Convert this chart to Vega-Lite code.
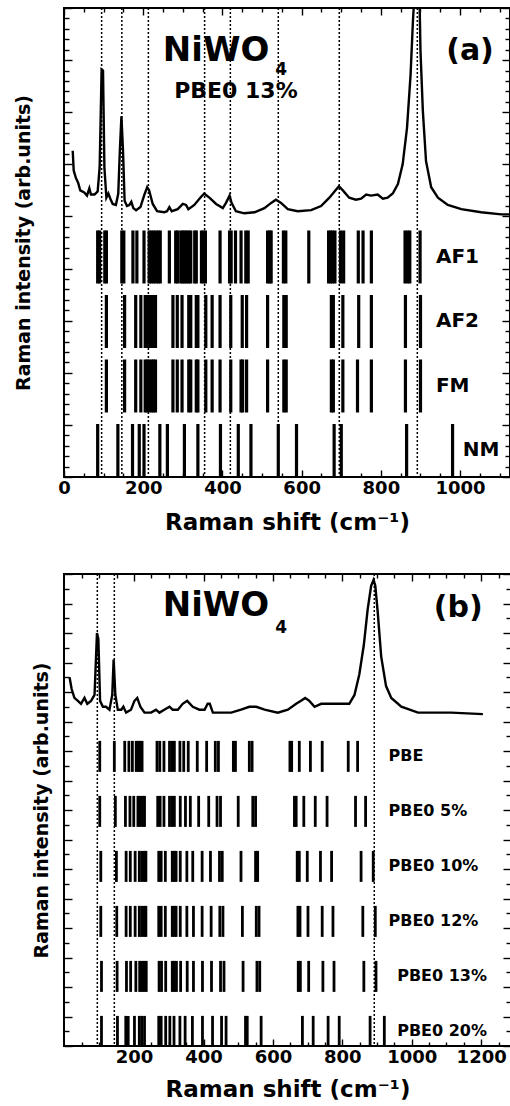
{
  "$schema": "https://vega.github.io/schema/vega-lite/v6.json",
  "padding": {"left": 13, "top": 6, "right": 0, "bottom": 0},
  "spacing": 37,
  "config": {
    "view": {"stroke": "black", "strokeWidth": 2},
    "font": "DejaVu Sans",
    "axis": {"domain": false, "grid": false, "tickColor": "black", "tickWidth": 1.4,
      "labelFont": "DejaVu Sans", "labelFontSize": 18, "labelFontWeight": "bold", "labelColor": "black",
      "titleFont": "DejaVu Sans", "titleFontWeight": "bold", "titleColor": "black"}
  },
  "datasets": {
    "specA": [
      {"shift":22,"intensity":31.3},{"shift":24.5,"intensity":29.4},{"shift":30,"intensity":28.7},{"shift":36,"intensity":28.2},{"shift":41,"intensity":27.5},{"shift":51,"intensity":27.3},{"shift":58,"intensity":27.0},{"shift":64,"intensity":27.7},{"shift":68,"intensity":27.1},{"shift":77,"intensity":27.1},{"shift":85,"intensity":27.4},{"shift":90,"intensity":29.7},{"shift":95,"intensity":39.1},{"shift":98.5,"intensity":39.0},{"shift":102,"intensity":29.7},{"shift":107,"intensity":26.8},{"shift":112,"intensity":27.2},{"shift":117,"intensity":26.7},{"shift":123,"intensity":26.2},{"shift":131,"intensity":26.1},{"shift":137,"intensity":27.2},{"shift":141,"intensity":31.3},{"shift":145,"intensity":34.6},{"shift":149,"intensity":31.3},{"shift":153,"intensity":26.5},{"shift":159,"intensity":26.0},{"shift":165,"intensity":26.1},{"shift":170,"intensity":26.4},{"shift":175,"intensity":25.8},{"shift":182,"intensity":25.6},{"shift":193,"intensity":25.9},{"shift":203,"intensity":27.1},{"shift":210,"intensity":27.8},{"shift":215,"intensity":27.5},{"shift":224,"intensity":26.2},{"shift":235,"intensity":25.5},{"shift":253,"intensity":25.4},{"shift":260,"intensity":25.5},{"shift":266,"intensity":25.9},{"shift":272,"intensity":25.5},{"shift":287,"intensity":25.7},{"shift":300,"intensity":26.2},{"shift":308,"intensity":26.1},{"shift":314,"intensity":25.7},{"shift":329,"intensity":26.1},{"shift":344,"intensity":26.8},{"shift":354,"intensity":27.2},{"shift":367,"intensity":26.8},{"shift":384,"intensity":26.2},{"shift":401,"intensity":25.8},{"shift":409,"intensity":26.3},{"shift":418,"intensity":27.0},{"shift":423,"intensity":26.3},{"shift":434,"intensity":25.5},{"shift":455,"intensity":25.3},{"shift":481,"intensity":25.4},{"shift":506,"intensity":25.8},{"shift":523,"intensity":26.3},{"shift":535,"intensity":26.6},{"shift":548,"intensity":26.3},{"shift":565,"intensity":25.7},{"shift":590,"intensity":25.5},{"shift":624,"intensity":25.6},{"shift":649,"intensity":26.0},{"shift":670,"intensity":26.8},{"shift":683,"intensity":27.4},{"shift":694,"intensity":27.9},{"shift":704,"intensity":27.5},{"shift":720,"intensity":26.8},{"shift":737,"intensity":26.6},{"shift":750,"intensity":26.7},{"shift":763,"intensity":27.1},{"shift":775,"intensity":27.0},{"shift":792,"intensity":27.1},{"shift":805,"intensity":26.7},{"shift":817,"intensity":26.8},{"shift":830,"intensity":27.2},{"shift":843,"intensity":28.1},{"shift":855,"intensity":30.0},{"shift":866,"intensity":33.5},{"shift":875,"intensity":38.6},{"shift":881,"intensity":43.8},{"shift":886,"intensity":47},{"shift":892,"intensity":50},{"shift":897,"intensity":47},{"shift":900,"intensity":40.9},{"shift":906,"intensity":35.1},{"shift":914,"intensity":30.3},{"shift":927,"intensity":27.8},{"shift":944,"intensity":26.8},{"shift":969,"intensity":26.1},{"shift":1003,"intensity":25.7},{"shift":1053,"intensity":25.4},{"shift":1104,"intensity":25.2},{"shift":1126,"intensity":25.2}
    ],
    "linesA": [{"shift":95},{"shift":146},{"shift":213},{"shift":355},{"shift":420},{"shift":541},{"shift":695},{"shift":892}],
    "barsA": [
      {"model":"AF1","row":4,"shift":85},{"model":"AF1","row":4,"shift":90},{"model":"AF1","row":4,"shift":103},{"model":"AF1","row":4,"shift":107},{"model":"AF1","row":4,"shift":146},{"model":"AF1","row":4,"shift":151},{"model":"AF1","row":4,"shift":174},{"model":"AF1","row":4,"shift":184},{"model":"AF1","row":4,"shift":202},{"model":"AF1","row":4,"shift":215},{"model":"AF1","row":4,"shift":220},{"model":"AF1","row":4,"shift":226},{"model":"AF1","row":4,"shift":232},{"model":"AF1","row":4,"shift":238},{"model":"AF1","row":4,"shift":243},{"model":"AF1","row":4,"shift":266},{"model":"AF1","row":4,"shift":282},{"model":"AF1","row":4,"shift":287},{"model":"AF1","row":4,"shift":295},{"model":"AF1","row":4,"shift":300},{"model":"AF1","row":4,"shift":305},{"model":"AF1","row":4,"shift":310},{"model":"AF1","row":4,"shift":315},{"model":"AF1","row":4,"shift":320},{"model":"AF1","row":4,"shift":330},{"model":"AF1","row":4,"shift":334},{"model":"AF1","row":4,"shift":347},{"model":"AF1","row":4,"shift":352},{"model":"AF1","row":4,"shift":357},{"model":"AF1","row":4,"shift":394},{"model":"AF1","row":4,"shift":418},{"model":"AF1","row":4,"shift":422},{"model":"AF1","row":4,"shift":433},{"model":"AF1","row":4,"shift":447},{"model":"AF1","row":4,"shift":459},{"model":"AF1","row":4,"shift":465},{"model":"AF1","row":4,"shift":514},{"model":"AF1","row":4,"shift":519},{"model":"AF1","row":4,"shift":523},{"model":"AF1","row":4,"shift":554},{"model":"AF1","row":4,"shift":560},{"model":"AF1","row":4,"shift":618},{"model":"AF1","row":4,"shift":668},{"model":"AF1","row":4,"shift":673},{"model":"AF1","row":4,"shift":678},{"model":"AF1","row":4,"shift":684},{"model":"AF1","row":4,"shift":698},{"model":"AF1","row":4,"shift":706},{"model":"AF1","row":4,"shift":743},{"model":"AF1","row":4,"shift":755},{"model":"AF1","row":4,"shift":776},{"model":"AF1","row":4,"shift":861},{"model":"AF1","row":4,"shift":867},{"model":"AF1","row":4,"shift":873},{"model":"AF1","row":4,"shift":899},
      {"model":"AF2","row":3,"shift":107},{"model":"AF2","row":3,"shift":153},{"model":"AF2","row":3,"shift":181},{"model":"AF2","row":3,"shift":194},{"model":"AF2","row":3,"shift":205},{"model":"AF2","row":3,"shift":210},{"model":"AF2","row":3,"shift":215},{"model":"AF2","row":3,"shift":221},{"model":"AF2","row":3,"shift":226},{"model":"AF2","row":3,"shift":231},{"model":"AF2","row":3,"shift":275},{"model":"AF2","row":3,"shift":286},{"model":"AF2","row":3,"shift":298},{"model":"AF2","row":3,"shift":315},{"model":"AF2","row":3,"shift":320},{"model":"AF2","row":3,"shift":334},{"model":"AF2","row":3,"shift":338},{"model":"AF2","row":3,"shift":358},{"model":"AF2","row":3,"shift":374},{"model":"AF2","row":3,"shift":394},{"model":"AF2","row":3,"shift":421},{"model":"AF2","row":3,"shift":450},{"model":"AF2","row":3,"shift":461},{"model":"AF2","row":3,"shift":514},{"model":"AF2","row":3,"shift":555},{"model":"AF2","row":3,"shift":561},{"model":"AF2","row":3,"shift":675},{"model":"AF2","row":3,"shift":680},{"model":"AF2","row":3,"shift":704},{"model":"AF2","row":3,"shift":744},{"model":"AF2","row":3,"shift":776},{"model":"AF2","row":3,"shift":862},{"model":"AF2","row":3,"shift":900},
      {"model":"FM","row":2,"shift":107},{"model":"FM","row":2,"shift":153},{"model":"FM","row":2,"shift":181},{"model":"FM","row":2,"shift":194},{"model":"FM","row":2,"shift":205},{"model":"FM","row":2,"shift":210},{"model":"FM","row":2,"shift":215},{"model":"FM","row":2,"shift":221},{"model":"FM","row":2,"shift":226},{"model":"FM","row":2,"shift":231},{"model":"FM","row":2,"shift":275},{"model":"FM","row":2,"shift":286},{"model":"FM","row":2,"shift":298},{"model":"FM","row":2,"shift":315},{"model":"FM","row":2,"shift":320},{"model":"FM","row":2,"shift":334},{"model":"FM","row":2,"shift":338},{"model":"FM","row":2,"shift":358},{"model":"FM","row":2,"shift":374},{"model":"FM","row":2,"shift":394},{"model":"FM","row":2,"shift":421},{"model":"FM","row":2,"shift":447},{"model":"FM","row":2,"shift":451},{"model":"FM","row":2,"shift":461},{"model":"FM","row":2,"shift":514},{"model":"FM","row":2,"shift":555},{"model":"FM","row":2,"shift":561},{"model":"FM","row":2,"shift":675},{"model":"FM","row":2,"shift":680},{"model":"FM","row":2,"shift":704},{"model":"FM","row":2,"shift":741},{"model":"FM","row":2,"shift":776},{"model":"FM","row":2,"shift":862},{"model":"FM","row":2,"shift":900},
      {"model":"NM","row":1,"shift":85},{"model":"NM","row":1,"shift":136},{"model":"NM","row":1,"shift":173},{"model":"NM","row":1,"shift":190},{"model":"NM","row":1,"shift":202},{"model":"NM","row":1,"shift":242},{"model":"NM","row":1,"shift":261},{"model":"NM","row":1,"shift":304},{"model":"NM","row":1,"shift":338},{"model":"NM","row":1,"shift":395},{"model":"NM","row":1,"shift":440},{"model":"NM","row":1,"shift":472},{"model":"NM","row":1,"shift":541},{"model":"NM","row":1,"shift":587},{"model":"NM","row":1,"shift":682},{"model":"NM","row":1,"shift":700},{"model":"NM","row":1,"shift":865},{"model":"NM","row":1,"shift":981}
    ],
    "rowLabelsA": [{"model":"AF1","row":4},{"model":"AF2","row":3},{"model":"FM","row":2},{"model":"NM","row":1}],
    "specB": [
      {"shift":14,"intensity":12.5},{"shift":20,"intensity":12.1},{"shift":28,"intensity":11.8},{"shift":38,"intensity":11.7},{"shift":47,"intensity":11.6},{"shift":57,"intensity":11.8},{"shift":65,"intensity":11.6},{"shift":76,"intensity":11.7},{"shift":86,"intensity":11.9},{"shift":93,"intensity":14.0},{"shift":97,"intensity":13.8},{"shift":102,"intensity":11.7},{"shift":110,"intensity":11.5},{"shift":119,"intensity":11.5},{"shift":129,"intensity":11.4},{"shift":137,"intensity":11.9},{"shift":141,"intensity":13.1},{"shift":146,"intensity":11.9},{"shift":153,"intensity":11.4},{"shift":163,"intensity":11.4},{"shift":169,"intensity":11.5},{"shift":177,"intensity":11.3},{"shift":191,"intensity":11.4},{"shift":201,"intensity":11.7},{"shift":209,"intensity":11.8},{"shift":218,"intensity":11.5},{"shift":230,"intensity":11.3},{"shift":249,"intensity":11.3},{"shift":263,"intensity":11.4},{"shift":273,"intensity":11.3},{"shift":287,"intensity":11.4},{"shift":302,"intensity":11.5},{"shift":311,"intensity":11.4},{"shift":326,"intensity":11.4},{"shift":340,"intensity":11.6},{"shift":353,"intensity":11.7},{"shift":369,"intensity":11.5},{"shift":388,"intensity":11.4},{"shift":403,"intensity":11.4},{"shift":412,"intensity":11.6},{"shift":418,"intensity":11.6},{"shift":427,"intensity":11.3},{"shift":451,"intensity":11.3},{"shift":480,"intensity":11.3},{"shift":508,"intensity":11.4},{"shift":532,"intensity":11.5},{"shift":552,"intensity":11.5},{"shift":576,"intensity":11.4},{"shift":614,"intensity":11.3},{"shift":643,"intensity":11.4},{"shift":667,"intensity":11.6},{"shift":681,"intensity":11.7},{"shift":693,"intensity":11.8},{"shift":705,"intensity":11.7},{"shift":720,"intensity":11.5},{"shift":739,"intensity":11.6},{"shift":758,"intensity":11.6},{"shift":777,"intensity":11.6},{"shift":797,"intensity":11.6},{"shift":820,"intensity":11.6},{"shift":835,"intensity":11.9},{"shift":849,"intensity":12.6},{"shift":862,"intensity":13.6},{"shift":873,"intensity":14.8},{"shift":883,"intensity":15.6},{"shift":890,"intensity":15.8},{"shift":895,"intensity":15.6},{"shift":902,"intensity":14.7},{"shift":912,"intensity":13.2},{"shift":926,"intensity":12.2},{"shift":941,"intensity":11.8},{"shift":970,"intensity":11.5},{"shift":1018,"intensity":11.3},{"shift":1065,"intensity":11.3},{"shift":1114,"intensity":11.3},{"shift":1205,"intensity":11.25}
    ],
    "linesB": [{"shift":94},{"shift":143},{"shift":892}],
    "barsB": [
      {"model":"PBE","row":6,"shift":101},{"model":"PBE","row":6,"shift":143},{"model":"PBE","row":6,"shift":173},{"model":"PBE","row":6,"shift":185},{"model":"PBE","row":6,"shift":195},{"model":"PBE","row":6,"shift":206},{"model":"PBE","row":6,"shift":212},{"model":"PBE","row":6,"shift":217},{"model":"PBE","row":6,"shift":223},{"model":"PBE","row":6,"shift":266},{"model":"PBE","row":6,"shift":274},{"model":"PBE","row":6,"shift":286},{"model":"PBE","row":6,"shift":302},{"model":"PBE","row":6,"shift":309},{"model":"PBE","row":6,"shift":316},{"model":"PBE","row":6,"shift":332},{"model":"PBE","row":6,"shift":343},{"model":"PBE","row":6,"shift":356},{"model":"PBE","row":6,"shift":382},{"model":"PBE","row":6,"shift":409},{"model":"PBE","row":6,"shift":434},{"model":"PBE","row":6,"shift":443},{"model":"PBE","row":6,"shift":486},{"model":"PBE","row":6,"shift":492},{"model":"PBE","row":6,"shift":532},{"model":"PBE","row":6,"shift":540},{"model":"PBE","row":6,"shift":649},{"model":"PBE","row":6,"shift":654},{"model":"PBE","row":6,"shift":676},{"model":"PBE","row":6,"shift":708},{"model":"PBE","row":6,"shift":742},{"model":"PBE","row":6,"shift":817},{"model":"PBE","row":6,"shift":844},
      {"model":"PBE0 5%","row":5,"shift":101},{"model":"PBE0 5%","row":5,"shift":146},{"model":"PBE0 5%","row":5,"shift":175},{"model":"PBE0 5%","row":5,"shift":188},{"model":"PBE0 5%","row":5,"shift":199},{"model":"PBE0 5%","row":5,"shift":211},{"model":"PBE0 5%","row":5,"shift":217},{"model":"PBE0 5%","row":5,"shift":224},{"model":"PBE0 5%","row":5,"shift":230},{"model":"PBE0 5%","row":5,"shift":268},{"model":"PBE0 5%","row":5,"shift":275},{"model":"PBE0 5%","row":5,"shift":286},{"model":"PBE0 5%","row":5,"shift":302},{"model":"PBE0 5%","row":5,"shift":309},{"model":"PBE0 5%","row":5,"shift":316},{"model":"PBE0 5%","row":5,"shift":333},{"model":"PBE0 5%","row":5,"shift":348},{"model":"PBE0 5%","row":5,"shift":362},{"model":"PBE0 5%","row":5,"shift":386},{"model":"PBE0 5%","row":5,"shift":415},{"model":"PBE0 5%","row":5,"shift":439},{"model":"PBE0 5%","row":5,"shift":449},{"model":"PBE0 5%","row":5,"shift":500},{"model":"PBE0 5%","row":5,"shift":542},{"model":"PBE0 5%","row":5,"shift":550},{"model":"PBE0 5%","row":5,"shift":662},{"model":"PBE0 5%","row":5,"shift":667},{"model":"PBE0 5%","row":5,"shift":689},{"model":"PBE0 5%","row":5,"shift":722},{"model":"PBE0 5%","row":5,"shift":756},{"model":"PBE0 5%","row":5,"shift":838},{"model":"PBE0 5%","row":5,"shift":867},
      {"model":"PBE0 10%","row":4,"shift":104},{"model":"PBE0 10%","row":4,"shift":149},{"model":"PBE0 10%","row":4,"shift":177},{"model":"PBE0 10%","row":4,"shift":189},{"model":"PBE0 10%","row":4,"shift":203},{"model":"PBE0 10%","row":4,"shift":215},{"model":"PBE0 10%","row":4,"shift":222},{"model":"PBE0 10%","row":4,"shift":229},{"model":"PBE0 10%","row":4,"shift":234},{"model":"PBE0 10%","row":4,"shift":271},{"model":"PBE0 10%","row":4,"shift":278},{"model":"PBE0 10%","row":4,"shift":290},{"model":"PBE0 10%","row":4,"shift":310},{"model":"PBE0 10%","row":4,"shift":316},{"model":"PBE0 10%","row":4,"shift":321},{"model":"PBE0 10%","row":4,"shift":333},{"model":"PBE0 10%","row":4,"shift":352},{"model":"PBE0 10%","row":4,"shift":369},{"model":"PBE0 10%","row":4,"shift":396},{"model":"PBE0 10%","row":4,"shift":420},{"model":"PBE0 10%","row":4,"shift":446},{"model":"PBE0 10%","row":4,"shift":454},{"model":"PBE0 10%","row":4,"shift":508},{"model":"PBE0 10%","row":4,"shift":550},{"model":"PBE0 10%","row":4,"shift":556},{"model":"PBE0 10%","row":4,"shift":670},{"model":"PBE0 10%","row":4,"shift":676},{"model":"PBE0 10%","row":4,"shift":699},{"model":"PBE0 10%","row":4,"shift":737},{"model":"PBE0 10%","row":4,"shift":769},{"model":"PBE0 10%","row":4,"shift":854},{"model":"PBE0 10%","row":4,"shift":889},
      {"model":"PBE0 12%","row":3,"shift":104},{"model":"PBE0 12%","row":3,"shift":150},{"model":"PBE0 12%","row":3,"shift":177},{"model":"PBE0 12%","row":3,"shift":189},{"model":"PBE0 12%","row":3,"shift":203},{"model":"PBE0 12%","row":3,"shift":215},{"model":"PBE0 12%","row":3,"shift":222},{"model":"PBE0 12%","row":3,"shift":229},{"model":"PBE0 12%","row":3,"shift":234},{"model":"PBE0 12%","row":3,"shift":271},{"model":"PBE0 12%","row":3,"shift":278},{"model":"PBE0 12%","row":3,"shift":290},{"model":"PBE0 12%","row":3,"shift":310},{"model":"PBE0 12%","row":3,"shift":316},{"model":"PBE0 12%","row":3,"shift":321},{"model":"PBE0 12%","row":3,"shift":333},{"model":"PBE0 12%","row":3,"shift":352},{"model":"PBE0 12%","row":3,"shift":371},{"model":"PBE0 12%","row":3,"shift":396},{"model":"PBE0 12%","row":3,"shift":422},{"model":"PBE0 12%","row":3,"shift":447},{"model":"PBE0 12%","row":3,"shift":456},{"model":"PBE0 12%","row":3,"shift":512},{"model":"PBE0 12%","row":3,"shift":552},{"model":"PBE0 12%","row":3,"shift":560},{"model":"PBE0 12%","row":3,"shift":672},{"model":"PBE0 12%","row":3,"shift":678},{"model":"PBE0 12%","row":3,"shift":701},{"model":"PBE0 12%","row":3,"shift":742},{"model":"PBE0 12%","row":3,"shift":773},{"model":"PBE0 12%","row":3,"shift":859},{"model":"PBE0 12%","row":3,"shift":895},
      {"model":"PBE0 13%","row":2,"shift":106},{"model":"PBE0 13%","row":2,"shift":151},{"model":"PBE0 13%","row":2,"shift":178},{"model":"PBE0 13%","row":2,"shift":190},{"model":"PBE0 13%","row":2,"shift":205},{"model":"PBE0 13%","row":2,"shift":216},{"model":"PBE0 13%","row":2,"shift":223},{"model":"PBE0 13%","row":2,"shift":229},{"model":"PBE0 13%","row":2,"shift":235},{"model":"PBE0 13%","row":2,"shift":272},{"model":"PBE0 13%","row":2,"shift":279},{"model":"PBE0 13%","row":2,"shift":291},{"model":"PBE0 13%","row":2,"shift":310},{"model":"PBE0 13%","row":2,"shift":316},{"model":"PBE0 13%","row":2,"shift":322},{"model":"PBE0 13%","row":2,"shift":334},{"model":"PBE0 13%","row":2,"shift":353},{"model":"PBE0 13%","row":2,"shift":371},{"model":"PBE0 13%","row":2,"shift":397},{"model":"PBE0 13%","row":2,"shift":423},{"model":"PBE0 13%","row":2,"shift":449},{"model":"PBE0 13%","row":2,"shift":459},{"model":"PBE0 13%","row":2,"shift":514},{"model":"PBE0 13%","row":2,"shift":554},{"model":"PBE0 13%","row":2,"shift":562},{"model":"PBE0 13%","row":2,"shift":673},{"model":"PBE0 13%","row":2,"shift":679},{"model":"PBE0 13%","row":2,"shift":703},{"model":"PBE0 13%","row":2,"shift":744},{"model":"PBE0 13%","row":2,"shift":776},{"model":"PBE0 13%","row":2,"shift":862},{"model":"PBE0 13%","row":2,"shift":897},
      {"model":"PBE0 20%","row":1,"shift":106},{"model":"PBE0 20%","row":1,"shift":152},{"model":"PBE0 20%","row":1,"shift":176},{"model":"PBE0 20%","row":1,"shift":183},{"model":"PBE0 20%","row":1,"shift":201},{"model":"PBE0 20%","row":1,"shift":215},{"model":"PBE0 20%","row":1,"shift":222},{"model":"PBE0 20%","row":1,"shift":230},{"model":"PBE0 20%","row":1,"shift":271},{"model":"PBE0 20%","row":1,"shift":278},{"model":"PBE0 20%","row":1,"shift":291},{"model":"PBE0 20%","row":1,"shift":303},{"model":"PBE0 20%","row":1,"shift":315},{"model":"PBE0 20%","row":1,"shift":332},{"model":"PBE0 20%","row":1,"shift":347},{"model":"PBE0 20%","row":1,"shift":368},{"model":"PBE0 20%","row":1,"shift":397},{"model":"PBE0 20%","row":1,"shift":426},{"model":"PBE0 20%","row":1,"shift":452},{"model":"PBE0 20%","row":1,"shift":465},{"model":"PBE0 20%","row":1,"shift":521},{"model":"PBE0 20%","row":1,"shift":526},{"model":"PBE0 20%","row":1,"shift":566},{"model":"PBE0 20%","row":1,"shift":685},{"model":"PBE0 20%","row":1,"shift":716},{"model":"PBE0 20%","row":1,"shift":759},{"model":"PBE0 20%","row":1,"shift":791},{"model":"PBE0 20%","row":1,"shift":880},{"model":"PBE0 20%","row":1,"shift":921}
    ],
    "rowLabelsB": [{"model":"PBE","row":6},{"model":"PBE0 5%","row":5},{"model":"PBE0 10%","row":4},{"model":"PBE0 12%","row":3},{"model":"PBE0 13%","row":2},{"model":"PBE0 20%","row":1}]
  },
  "vconcat": [
    {
      "width": 446, "height": 469,
      "resolve": {"scale": {"y": "independent"}, "axis": {"x": "independent", "y": "independent"}},
      "layer": [
        {
          "data": {"name": "specA"},
          "mark": {"type": "line", "color": "black", "strokeWidth": 2.4, "clip": true},
          "encoding": {
            "x": {"field": "shift", "type": "quantitative", "scale": {"domain": [0, 1126], "nice": false, "zero": false},
              "axis": {"orient": "bottom", "values": [0,50,100,150,200,250,300,350,400,450,500,550,600,650,700,750,800,850,900,950,1000,1050,1100],
                "format": "d", "labelExpr": "datum.value % 200 === 0 ? datum.label : ''",
                "tickSize": {"condition": {"test": "datum.value % 200 === 0", "value": -7}, "value": -4},
                "labelPadding": 9, "labelFlush": false, "labelOverlap": false,
                "title": "Raman shift (cm⁻¹)", "titleFontSize": 23, "titlePadding": 11}},
            "y": {"field": "intensity", "type": "quantitative", "scale": {"domain": [0, 45], "nice": false, "zero": false},
              "axis": {"orient": "left", "values": [0,1,2,3,4,5,6,7,8,9,10,11,12,13,14,15,16,17,18,19,20,21,22,23,24,25,26,27,28,29,30,31,32,33,34,35,36,37,38,39,40,41,42,43,44,45],
                "labels": false, "tickSize": {"condition": {"test": "datum.value % 5 === 0", "value": -8}, "value": -5},
                "title": "Raman intensity (arb.units)", "titleFontSize": 19, "titlePadding": 30}}
          }
        },
        {
          "data": {"name": "linesA"},
          "mark": {"type": "rule", "color": "black", "strokeWidth": 1.5, "strokeDash": [2, 2]},
          "encoding": {
            "x": {"field": "shift", "type": "quantitative", "scale": {"domain": [0, 1126], "nice": false, "zero": false},
              "axis": {"orient": "top", "values": [0,50,100,150,200,250,300,350,400,450,500,550,600,650,700,750,800,850,900,950,1000,1050,1100],
                "labels": false, "title": null, "tickSize": {"condition": {"test": "datum.value % 200 === 0", "value": -7}, "value": -4}}}
          }
        },
        {
          "data": {"name": "barsA"},
          "mark": {"type": "tick", "orient": "vertical", "color": "black", "size": 53, "thickness": 3.2, "opacity": 1},
          "encoding": {
            "x": {"field": "shift", "type": "quantitative", "scale": {"domain": [0, 1126], "nice": false, "zero": false}, "axis": null},
            "y": {"field": "row", "type": "quantitative", "scale": {"domain": [0.589, 7.86], "nice": false, "zero": false}, "axis": null}
          }
        },
        {
          "data": {"name": "rowLabelsA"},
          "transform": [{"filter": "datum.row > 1"}],
          "mark": {"type": "text", "align": "left", "baseline": "middle", "font": "DejaVu Sans", "fontWeight": "bold", "fontSize": 20, "color": "black"},
          "encoding": {
            "x": {"datum": 939, "type": "quantitative", "scale": {"domain": [0, 1126], "nice": false, "zero": false}, "axis": null},
            "y": {"field": "row", "type": "quantitative", "scale": {"domain": [0.589, 7.86], "nice": false, "zero": false}, "axis": null},
            "text": {"field": "model"}
          }
        },
        {
          "data": {"name": "rowLabelsA"},
          "transform": [{"filter": "datum.row === 1"}],
          "mark": {"type": "text", "align": "left", "baseline": "middle", "font": "DejaVu Sans", "fontWeight": "bold", "fontSize": 20, "color": "black"},
          "encoding": {
            "x": {"datum": 1007, "type": "quantitative", "scale": {"domain": [0, 1126], "nice": false, "zero": false}, "axis": null},
            "y": {"field": "row", "type": "quantitative", "scale": {"domain": [0.589, 7.86], "nice": false, "zero": false}, "axis": null},
            "text": {"field": "model"}
          }
        },
        {
          "data": {"values": [{}]},
          "mark": {"type": "text", "text": "NiWO", "align": "center", "baseline": "middle", "font": "DejaVu Sans", "fontWeight": "bold", "fontSize": 34, "color": "black"},
          "encoding": {
            "x": {"datum": 384, "type": "quantitative", "scale": {"domain": [0, 1126], "nice": false, "zero": false}, "axis": null},
            "y": {"datum": 40.9, "type": "quantitative", "scale": {"domain": [0, 45], "nice": false, "zero": false},
              "axis": {"orient": "right", "values": [0,1,2,3,4,5,6,7,8,9,10,11,12,13,14,15,16,17,18,19,20,21,22,23,24,25,26,27,28,29,30,31,32,33,34,35,36,37,38,39,40,41,42,43,44,45],
                "labels": false, "title": null, "tickSize": {"condition": {"test": "datum.value % 5 === 0", "value": -8}, "value": -5}}}
          }
        },
        {
          "data": {"values": [{}]},
          "mark": {"type": "text", "text": "4", "align": "center", "baseline": "middle", "font": "DejaVu Sans", "fontWeight": "bold", "fontSize": 17, "color": "black"},
          "encoding": {
            "x": {"datum": 548, "type": "quantitative", "scale": {"domain": [0, 1126], "nice": false, "zero": false}, "axis": null},
            "y": {"datum": 39.05, "type": "quantitative", "scale": {"domain": [0, 45], "nice": false, "zero": false}, "axis": null}
          }
        },
        {
          "data": {"values": [{}]},
          "mark": {"type": "text", "text": "PBE0 13%", "align": "center", "baseline": "middle", "font": "DejaVu Sans", "fontWeight": "bold", "fontSize": 22, "color": "black"},
          "encoding": {
            "x": {"datum": 434, "type": "quantitative", "scale": {"domain": [0, 1126], "nice": false, "zero": false}, "axis": null},
            "y": {"datum": 37.04, "type": "quantitative", "scale": {"domain": [0, 45], "nice": false, "zero": false}, "axis": null}
          }
        },
        {
          "data": {"values": [{}]},
          "mark": {"type": "text", "text": "(a)", "align": "center", "baseline": "middle", "font": "DejaVu Sans", "fontWeight": "bold", "fontSize": 30, "color": "black"},
          "encoding": {
            "x": {"datum": 1025, "type": "quantitative", "scale": {"domain": [0, 1126], "nice": false, "zero": false}, "axis": null},
            "y": {"datum": 40.87, "type": "quantitative", "scale": {"domain": [0, 45], "nice": false, "zero": false}, "axis": null}
          }
        }
      ]
    },
    {
      "width": 447, "height": 472,
      "resolve": {"scale": {"y": "independent"}, "axis": {"x": "independent", "y": "independent"}},
      "layer": [
        {
          "data": {"name": "specB"},
          "mark": {"type": "line", "color": "black", "strokeWidth": 2.4, "clip": true},
          "encoding": {
            "x": {"field": "shift", "type": "quantitative", "scale": {"domain": [-2, 1286], "nice": false, "zero": false},
              "axis": {"orient": "bottom", "values": [50,100,150,200,250,300,350,400,450,500,550,600,650,700,750,800,850,900,950,1000,1050,1100,1150,1200,1250],
                "format": "d", "labelExpr": "datum.value % 200 === 0 ? datum.label : ''",
                "tickSize": {"condition": {"test": "datum.value % 200 === 0", "value": -7}, "value": -4},
                "labelPadding": 9, "labelFlush": false, "labelOverlap": false,
                "title": "Raman shift (cm⁻¹)", "titleFontSize": 23, "titlePadding": 9}},
            "y": {"field": "intensity", "type": "quantitative", "scale": {"domain": [0, 16], "nice": false, "zero": false},
              "axis": {"orient": "left", "values": [0,0.5,1,1.5,2,2.5,3,3.5,4,4.5,5,5.5,6,6.5,7,7.5,8,8.5,9,9.5,10,10.5,11,11.5,12,12.5,13,13.5,14,14.5,15,15.5,16],
                "labels": false, "tickSize": {"condition": {"test": "datum.value % 1 === 0", "value": -8}, "value": -5},
                "title": "Raman intensity (arb.units)", "titleFontSize": 19, "titlePadding": 12}}
          }
        },
        {
          "data": {"name": "linesB"},
          "mark": {"type": "rule", "color": "black", "strokeWidth": 1.5, "strokeDash": [2, 2]},
          "encoding": {
            "x": {"field": "shift", "type": "quantitative", "scale": {"domain": [-2, 1286], "nice": false, "zero": false},
              "axis": {"orient": "top", "values": [50,100,150,200,250,300,350,400,450,500,550,600,650,700,750,800,850,900,950,1000,1050,1100,1150,1200,1250],
                "labels": false, "title": null, "tickSize": {"condition": {"test": "datum.value % 200 === 0", "value": -7}, "value": -4}}}
          }
        },
        {
          "data": {"name": "barsB"},
          "mark": {"type": "tick", "orient": "vertical", "color": "black", "size": 31, "thickness": 2.8, "opacity": 1},
          "encoding": {
            "x": {"field": "shift", "type": "quantitative", "scale": {"domain": [-2, 1286], "nice": false, "zero": false}, "axis": null},
            "y": {"field": "row", "type": "quantitative", "scale": {"domain": [0.7345, 9.316], "nice": false, "zero": false}, "axis": null}
          }
        },
        {
          "data": {"name": "rowLabelsB"},
          "transform": [{"filter": "datum.row > 2"}],
          "mark": {"type": "text", "align": "left", "baseline": "middle", "font": "DejaVu Sans", "fontWeight": "bold", "fontSize": 16, "color": "black"},
          "encoding": {
            "x": {"datum": 933, "type": "quantitative", "scale": {"domain": [-2, 1286], "nice": false, "zero": false}, "axis": null},
            "y": {"field": "row", "type": "quantitative", "scale": {"domain": [0.7345, 9.316], "nice": false, "zero": false}, "axis": null},
            "text": {"field": "model"}
          }
        },
        {
          "data": {"name": "rowLabelsB"},
          "transform": [{"filter": "datum.row <= 2"}],
          "mark": {"type": "text", "align": "left", "baseline": "middle", "font": "DejaVu Sans", "fontWeight": "bold", "fontSize": 16, "color": "black"},
          "encoding": {
            "x": {"datum": 958, "type": "quantitative", "scale": {"domain": [-2, 1286], "nice": false, "zero": false}, "axis": null},
            "y": {"field": "row", "type": "quantitative", "scale": {"domain": [0.7345, 9.316], "nice": false, "zero": false}, "axis": null},
            "text": {"field": "model"}
          }
        },
        {
          "data": {"values": [{}]},
          "mark": {"type": "text", "text": "NiWO", "align": "center", "baseline": "middle", "font": "DejaVu Sans", "fontWeight": "bold", "fontSize": 34, "color": "black"},
          "encoding": {
            "x": {"datum": 436, "type": "quantitative", "scale": {"domain": [-2, 1286], "nice": false, "zero": false}, "axis": null},
            "y": {"datum": 14.92, "type": "quantitative", "scale": {"domain": [0, 16], "nice": false, "zero": false},
              "axis": {"orient": "right", "values": [0,0.5,1,1.5,2,2.5,3,3.5,4,4.5,5,5.5,6,6.5,7,7.5,8,8.5,9,9.5,10,10.5,11,11.5,12,12.5,13,13.5,14,14.5,15,15.5,16],
                "labels": false, "title": null, "tickSize": {"condition": {"test": "datum.value % 1 === 0", "value": -8}, "value": -5}}}
          }
        },
        {
          "data": {"values": [{}]},
          "mark": {"type": "text", "text": "4", "align": "center", "baseline": "middle", "font": "DejaVu Sans", "fontWeight": "bold", "fontSize": 17, "color": "black"},
          "encoding": {
            "x": {"datum": 624, "type": "quantitative", "scale": {"domain": [-2, 1286], "nice": false, "zero": false}, "axis": null},
            "y": {"datum": 14.17, "type": "quantitative", "scale": {"domain": [0, 16], "nice": false, "zero": false}, "axis": null}
          }
        },
        {
          "data": {"values": [{}]},
          "mark": {"type": "text", "text": "(b)", "align": "center", "baseline": "middle", "font": "DejaVu Sans", "fontWeight": "bold", "fontSize": 30, "color": "black"},
          "encoding": {
            "x": {"datum": 1134, "type": "quantitative", "scale": {"domain": [-2, 1286], "nice": false, "zero": false}, "axis": null},
            "y": {"datum": 14.85, "type": "quantitative", "scale": {"domain": [0, 16], "nice": false, "zero": false}, "axis": null}
          }
        }
      ]
    }
  ]
}
